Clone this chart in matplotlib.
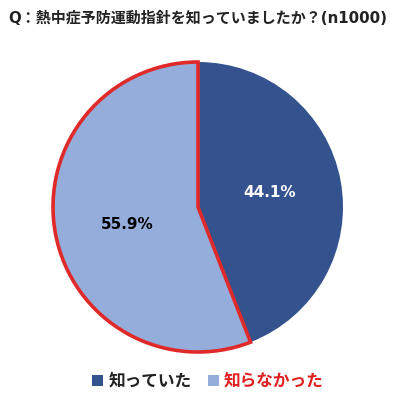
import matplotlib
matplotlib.use("Agg")
import matplotlib.pyplot as plt
from matplotlib.patches import Patch
import numpy as np

plt.rcParams['font.family'] = ['Noto Sans CJK JP', 'DejaVu Sans']

title = "Q：熱中症予防運動指針を知っていましたか？(n1000)"
categories = ["知っていた", "知らなかった"]
values = [44.1, 55.9]
colors = ["#33528E", "#94ADDB"]
label_colors = ["white", "black"]
legend_text_colors = ["#222222", "#E02020"]

fig = plt.figure(figsize=(4.0, 3.96), dpi=100)
ax = fig.add_axes([53/400, 44/396, 290/400, 290/396])
wedges, texts = ax.pie(values, colors=colors, startangle=90, counterclock=False,
                       radius=1.0, wedgeprops=dict(linewidth=0))
ax.set_xlim(-1, 1)
ax.set_ylim(-1, 1)
ax.set_aspect('equal')
wedges[1].set_edgecolor("#E02A2A")
wedges[1].set_linewidth(2.6)
wedges[1].set_zorder(3)

ang = 90
for i, (v, w) in enumerate(zip(values, wedges)):
    mid = np.deg2rad(ang - v * 3.6 / 2)
    ang -= v * 3.6
    r = 0.5
    ax.text(r * np.cos(mid), r * np.sin(mid) - (0.03 if i == 1 else -0.01), f"{v:.1f}%",
            ha='center', va='center', fontsize=11, fontweight='bold',
            color=label_colors[i], zorder=5, family=['DejaVu Sans'])

fig.text(0.495, 1 - 18/396, title, ha='center', va='center', fontsize=10.8,
         fontweight='bold', color='#222222', family=['DejaVu Sans', 'Noto Sans CJK JP'])

handles = [Patch(facecolor=c, edgecolor='none') for c in colors]
leg = fig.legend(handles, categories, loc='center', bbox_to_anchor=(0.52, 1 - 381/396),
                 ncol=2, frameon=False, prop=dict(size=12, weight='bold'),
                 handlelength=0.65, handleheight=0.65, handletextpad=0.3, columnspacing=1.0)
for t, c in zip(leg.get_texts(), legend_text_colors):
    t.set_color(c)

fig.savefig("out.png", dpi=100)
